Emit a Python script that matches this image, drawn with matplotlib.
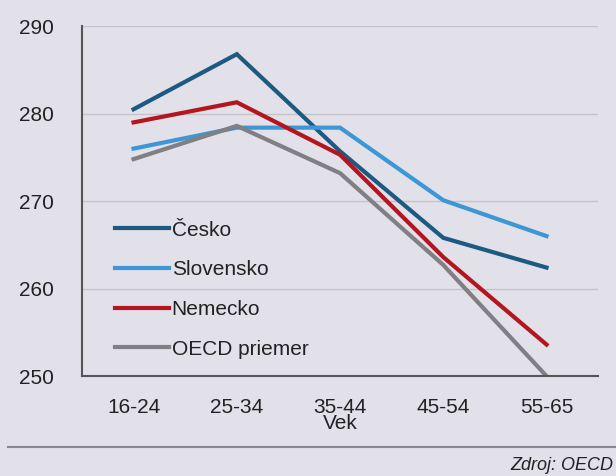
import matplotlib
matplotlib.use("Agg")
import matplotlib.pyplot as plt
from matplotlib.lines import Line2D

categories = ["16-24", "25-34", "35-44", "45-54", "55-65"]
cesko = [280.5, 286.8, 275.7, 265.8, 262.4]
slovensko = [276.0, 278.4, 278.4, 270.1, 266.0]
nemecko = [279.0, 281.3, 275.3, 263.6, 253.6]
oecd = [274.8, 278.6, 273.2, 262.7, 250.0]
series_names = ["Česko", "Slovensko", "Nemecko", "OECD priemer"]
yticks = [250, 260, 270, 280, 290]

colors = ["#1c5a82", "#3c97d4", "#b3161e", "#7f7f84"]
bg = "#e2e0e9"
font = ["Liberation Sans Narrow", "Liberation Sans", "DejaVu Sans"]
plt.rcParams["font.family"] = font

fig = plt.figure(figsize=(6.16, 4.76), dpi=100, facecolor=bg)
ax = fig.add_axes([0.133, 0.21, 0.838, 0.735], facecolor=bg)

x = list(range(len(categories)))
for vals, name, c in zip([cesko, slovensko, nemecko, oecd], series_names, colors):
    ax.plot(x, vals, color=c, lw=3.0, label=name, solid_joinstyle="miter")

ax.set_xlim(-0.5, len(categories) - 0.5)
ax.set_ylim(250, 290)
ax.set_yticks(yticks)
ax.set_xticks(x)
ax.set_xticklabels(categories)
ax.grid(axis="y", color="#c4c3ca", lw=1.0)
ax.set_axisbelow(True)
for s in ["top", "right"]:
    ax.spines[s].set_visible(False)
for s in ["left", "bottom"]:
    ax.spines[s].set_color("#555555")
    ax.spines[s].set_linewidth(1.5)
ax.tick_params(axis="both", length=0, labelsize=15, colors="#222222")
ax.tick_params(axis="y", pad=20)
ax.tick_params(axis="x", pad=16)
ax.set_xlabel("Vek", fontsize=15, color="#222222", labelpad=-2)

leg = ax.legend(loc="upper left", bbox_to_anchor=(0.065, 0.444), frameon=False,
                fontsize=15, handlelength=2.55, handletextpad=0.15,
                labelspacing=0.99, borderpad=0, borderaxespad=0)
for t in leg.get_texts():
    t.set_color("#222222")

fig.add_artist(Line2D([8 / 616, 1.0], [1 - 447 / 476, 1 - 447 / 476],
                      color="#8a8a8e", lw=1.5))
fig.text(613 / 616, 1 - 465 / 476, "Zdroj: OECD", ha="right", va="center",
         fontsize=13, style="italic", color="#222222")

fig.savefig("out.png", dpi=100, facecolor=bg)
